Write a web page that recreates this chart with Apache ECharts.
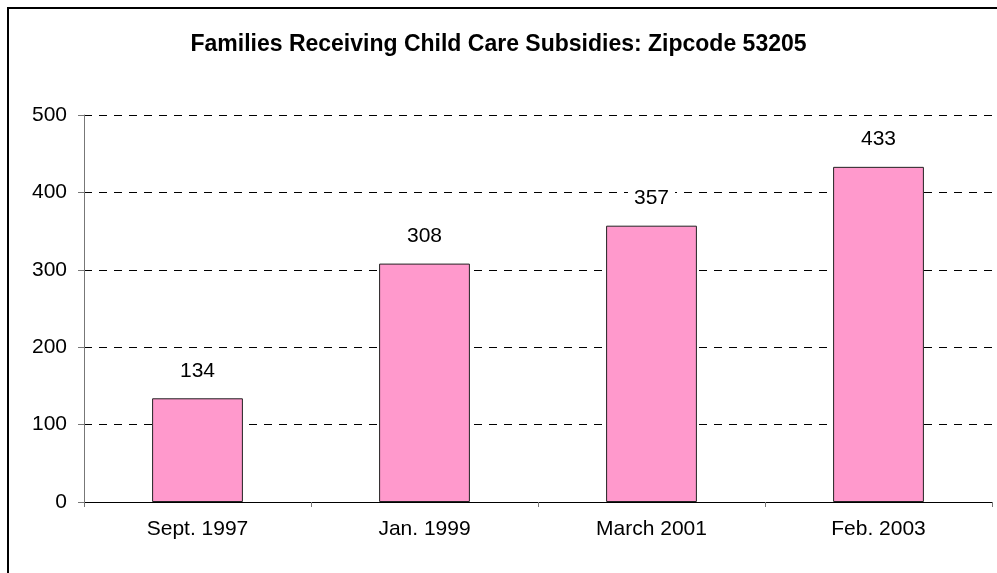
<!DOCTYPE html>
<html><head><meta charset="utf-8">
<script src="https://cdn.jsdelivr.net/npm/echarts@6/dist/echarts.min.js"></script>
<style>html,body{margin:0;padding:0;background:#fff}#c{width:997px;height:573px}</style>
</head><body><div id="c"></div>
<script>
var categories = ['Sept. 1997', 'Jan. 1999', 'March 2001', 'Feb. 2003'];
var values = [134, 308, 357, 433];
var titleText = 'Families Receiving Child Care Subsidies: Zipcode 53205';

var chart = echarts.init(document.getElementById('c'));
chart.setOption({
  animation: false,
  backgroundColor: '#fff',
  title: {
    text: titleText, left: 'center', top: 28,
    textStyle: {fontFamily: 'Liberation Sans, Arial', fontSize: 23, fontWeight: 'bold', color: '#000'}
  },
  graphic: [{
    type: 'rect', shape: {x: 8, y: 8, width: 1100, height: 700},
    style: {fill: 'none', stroke: '#000', lineWidth: 2}, silent: true, z: 100
  }],
  grid: {left: 84, right: 5, top: 115, bottom: 71},
  xAxis: {
    type: 'category', data: categories,
    axisLine: {lineStyle: {color: '#000', width: 1}},
    axisTick: {show: true, length: 5, lineStyle: {color: '#777'}},
    axisLabel: {fontFamily: 'Liberation Sans, Arial', fontSize: 21, color: '#000', margin: 17}
  },
  yAxis: {
    type: 'value', min: 0, max: 500, interval: 100,
    axisLine: {show: true, lineStyle: {color: '#777'}},
    axisTick: {show: true, length: 6, lineStyle: {color: '#777'}},
    axisLabel: {fontFamily: 'Liberation Sans, Arial', fontSize: 21, color: '#000', margin: 17},
    splitLine: {lineStyle: {color: '#000', type: [8, 7], width: 1}}
  },
  series: [{
    type: 'bar', data: values, barWidth: '40%',
    itemStyle: {color: '#FF99CC', borderColor: '#222', borderWidth: 1},
    label: {show: true, position: 'top', distance: 17, fontFamily: 'Liberation Sans, Arial', fontSize: 21, color: '#000',
      backgroundColor: '#fff', padding: [0, 6, 0, 6]}
  }]
});
</script></body></html>
